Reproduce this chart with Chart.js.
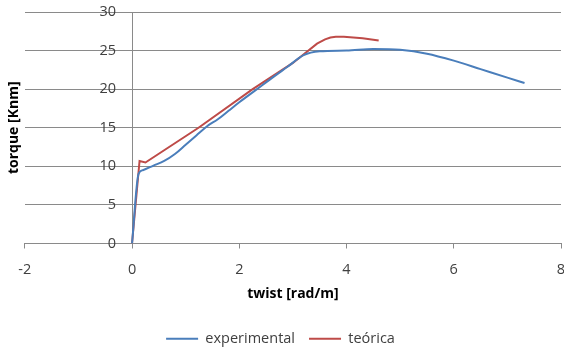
<!DOCTYPE html>
<html>
<head>
<meta charset="utf-8">
<script src="https://cdn.jsdelivr.net/npm/chart.js@4/dist/chart.umd.min.js"></script>
<style>
  html, body { margin: 0; padding: 0; background: #ffffff; }
  #wrap { width: 564px; height: 356px; }
</style>
</head>
<body>
<div id="wrap"><canvas id="c" width="564" height="356"></canvas></div>
<script>
// Torque vs. twist: measured curve and theoretical prediction
const seriesNames = ['experimental', 'teórica'];

const experimentalTwist  = [0, 0.12, 0.2, 0.4, 0.6, 0.8, 1.0, 1.2, 1.4, 1.6, 1.8, 2.0, 2.33, 2.6, 2.9, 3.2, 3.5, 4.0, 4.5, 5.0, 5.5, 6.0, 6.5, 7.0, 7.32];
const experimentalTorque = [0, 9.0, 9.5, 10.1, 10.7, 11.6, 12.8, 14.0, 15.2, 16.1, 17.2, 18.3, 20.0, 21.4, 22.9, 24.4, 24.9, 25.0, 25.2, 25.1, 24.6, 23.7, 22.6, 21.5, 20.8];

const teoricaTwist  = [0, 0.14, 0.25, 1.24, 2.25, 3.0, 3.45, 3.6, 3.7, 3.8, 3.95, 4.3, 4.6];
const teoricaTorque = [0, 10.7, 10.5, 15.0, 20.0, 23.4, 25.9, 26.45, 26.7, 26.8, 26.78, 26.6, 26.3];

const xTickValues = [-2, 0, 2, 4, 6, 8];
const yTickValues = [0, 5, 10, 15, 20, 25, 30];

const xTitle = 'twist [rad/m]';
const yTitle = 'torque [Knm]';

const FONT = '"Open Sans", "Noto Sans", sans-serif';
const GRID = '#8a8a8a';
const TEXT = '#404040';

const toPoints = (xs, ys) => xs.map((x, i) => ({ x: x, y: ys[i] }));

// y tick labels sit just left of the vertical axis at twist = 0
const crossingYLabels = {
  id: 'crossingYLabels',
  afterDraw(chart) {
    const xs = chart.scales.x, ys = chart.scales.y;
    const ctx = chart.ctx;
    const x0 = xs.getPixelForValue(0) - 16;
    ctx.save();
    ctx.font = '14.5px ' + FONT;
    ctx.fillStyle = TEXT;
    ctx.textAlign = 'right';
    ctx.textBaseline = 'middle';
    ys.ticks.forEach(t => {
      ctx.fillText(String(t.value), x0, ys.getPixelForValue(t.value));
    });
    ctx.restore();
  }
};

new Chart(document.getElementById('c'), {
  type: 'scatter',
  data: {
    datasets: [
      {
        label: seriesNames[0],
        data: toPoints(experimentalTwist, experimentalTorque),
        showLine: true,
        borderColor: '#4a7ebb',
        backgroundColor: '#4a7ebb',
        borderWidth: 2,
        pointRadius: 0,
        cubicInterpolationMode: 'monotone'
      },
      {
        label: seriesNames[1],
        data: toPoints(teoricaTwist, teoricaTorque),
        showLine: true,
        borderColor: '#be4b48',
        backgroundColor: '#be4b48',
        borderWidth: 2,
        pointRadius: 0,
        tension: 0
      }
    ]
  },
  options: {
    responsive: false,
    animation: false,
    devicePixelRatio: 1,
    layout: { padding: { top: 12, right: 3, left: 0, bottom: 0 } },
    scales: {
      x: {
        type: 'linear',
        min: -2,
        max: 8,
        afterBuildTicks: s => { s.ticks = xTickValues.map(v => ({ value: v })); },
        afterFit: s => { s.paddingLeft = 0; s.paddingRight = 0; s.height = 74; },
        grid: {
          color: c => (c.tick && c.tick.value === 0 ? GRID : 'rgba(0,0,0,0)'),
          tickColor: GRID,
          tickLength: 5,
          lineWidth: 1
        },
        border: { display: true, color: GRID, width: 1 },
        ticks: { color: TEXT, font: { family: FONT, size: 14.5 }, padding: 13, maxRotation: 0 },
        title: {
          display: true,
          text: xTitle,
          color: '#000000',
          font: { family: FONT, size: 14, weight: 'bold' },
          padding: { top: 0, bottom: 15 }
        }
      },
      y: {
        type: 'linear',
        position: 'left',
        min: 0,
        max: 30,
        afterBuildTicks: s => { s.ticks = yTickValues.map(v => ({ value: v })); },
        grid: { color: GRID, lineWidth: 1, drawTicks: false },
        border: { display: false },
        ticks: { display: false },
        title: {
          display: true,
          text: yTitle,
          color: '#000000',
          font: { family: FONT, size: 14, weight: 'bold' },
          padding: { top: 6, bottom: 2 }
        }
      }
    },
    plugins: {
      tooltip: { enabled: false },
      legend: {
        position: 'bottom',
        labels: {
          usePointStyle: true,
          pointStyle: 'line',
          pointStyleWidth: 32,
          color: TEXT,
          font: { family: FONT, size: 14.5 },
          padding: 14
        }
      }
    }
  },
  plugins: [crossingYLabels]
});
</script>
</body>
</html>
